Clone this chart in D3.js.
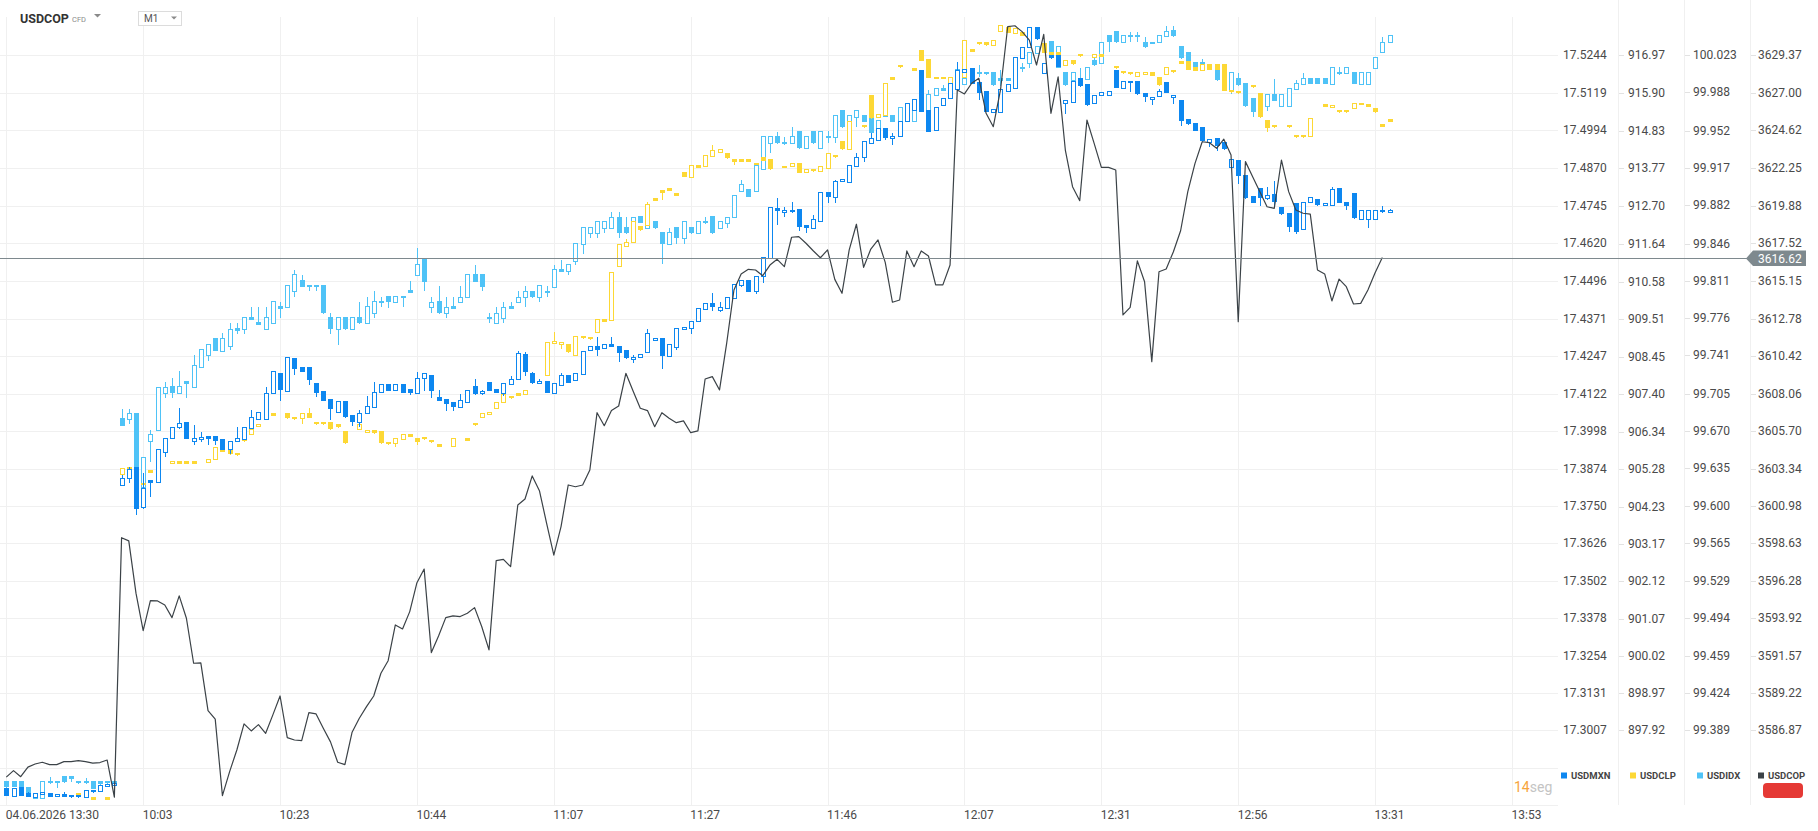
<!DOCTYPE html>
<html>
<head>
<meta charset="utf-8">
<script src="https://cdn.jsdelivr.net/npm/d3@7"></script>
<style>
  html, body { margin: 0; padding: 0; background: #fff; }
  svg { display: block; font-family: Roboto, "Noto Sans", sans-serif; }
</style>
</head>
<body>
<div id="chart"></div>
<script>
// ---- Data (1 bar per index) ----

const X_LABELS = ["04.06.2026 13:30", "10:03", "10:23", "10:44", "11:07", "11:27",
                  "11:46", "12:07", "12:31", "12:56", "13:31", "13:53"];

const MXN_TICKS = ["17.5244", "17.5119", "17.4994", "17.4870", "17.4745", "17.4620", "17.4496",
  "17.4371", "17.4247", "17.4122", "17.3998", "17.3874", "17.3750", "17.3626", "17.3502",
  "17.3378", "17.3254", "17.3131", "17.3007"];
const CLP_TICKS = ["916.97", "915.90", "914.83", "913.77", "912.70", "911.64", "910.58",
  "909.51", "908.45", "907.40", "906.34", "905.28", "904.23", "903.17", "902.12",
  "901.07", "900.02", "898.97", "897.92"];
const IDX_TICKS = ["100.023", "99.988", "99.952", "99.917", "99.882", "99.846", "99.811",
  "99.776", "99.741", "99.705", "99.670", "99.635", "99.600", "99.565", "99.529",
  "99.494", "99.459", "99.424", "99.389"];
const COP_TICKS = ["3629.37", "3627.00", "3624.62", "3622.25", "3619.88", "3617.52", "3615.15",
  "3612.78", "3610.42", "3608.06", "3605.70", "3603.34", "3600.98", "3598.63", "3596.28",
  "3593.92", "3591.57", "3589.22", "3586.87"];

const SERIES_NAMES = ["USDMXN", "USDCLP", "USDIDX", "USDCOP"];

// OHLC: [open, high, low, close]
const USDMXN = [
  [17.2817,17.2817,17.2791,17.2791],[17.2791,17.2815,17.2791,17.2815],[17.2820,17.2820,17.2791,17.2791],
  [17.2798,17.2804,17.2787,17.2787],[17.2787,17.2798,17.2787,17.2798],[17.2796,17.2804,17.2796,17.2804],
  [17.2798,17.2798,17.2787,17.2787],[17.2790,17.2796,17.2790,17.2796],[17.2796,17.2802,17.2787,17.2787],
  [17.2793,17.2793,17.2785,17.2785],[17.2793,17.2793,17.2785,17.2785],[17.2787,17.2809,17.2787,17.2809],
  [17.2809,17.2809,17.2802,17.2802],[17.2806,17.2826,17.2806,17.2826],[17.2823,17.2829,17.2823,17.2829],
  [17.2826,17.2834,17.2826,17.2834],[17.3819,17.3853,17.3819,17.3844],[17.3842,17.3880,17.3827,17.3873],
  [17.3878,17.3878,17.3722,17.3739],[17.3746,17.3858,17.3742,17.3809],[17.3836,17.3836,17.3781,17.3825],
  [17.3828,17.3938,17.3828,17.3938],[17.3930,17.3974,17.3913,17.3974],[17.3974,17.4011,17.3974,17.4011],
  [17.4011,17.4074,17.4007,17.4024],[17.4027,17.4027,17.3972,17.3972],[17.3966,17.4018,17.3954,17.3974],
  [17.3971,17.3996,17.3963,17.3980],[17.3982,17.3982,17.3954,17.3972],[17.3982,17.3982,17.3954,17.3966],
  [17.3971,17.3971,17.3936,17.3936],[17.3938,17.3966,17.3925,17.3966],[17.3966,17.4013,17.3966,17.3974],
  [17.3971,17.4011,17.3971,17.4011],[17.4007,17.4068,17.4007,17.4044],[17.4037,17.4063,17.4037,17.4063],
  [17.4037,17.4145,17.4037,17.4123],[17.4123,17.4197,17.4123,17.4197],[17.4190,17.4190,17.4101,17.4134],
  [17.4132,17.4243,17.4132,17.4243],[17.4239,17.4239,17.4184,17.4203],[17.4209,17.4209,17.4195,17.4195],
  [17.4212,17.4212,17.4151,17.4167],[17.4156,17.4156,17.4112,17.4125],[17.4131,17.4131,17.4099,17.4099],
  [17.4105,17.4105,17.4035,17.4070],[17.4063,17.4099,17.4063,17.4099],[17.4099,17.4099,17.4044,17.4044],
  [17.4052,17.4052,17.4018,17.4029],[17.4029,17.4068,17.4013,17.4059],[17.4057,17.4114,17.4057,17.4081],
  [17.4077,17.4160,17.4077,17.4129],[17.4127,17.4153,17.4127,17.4153],[17.4153,17.4153,17.4131,17.4131],
  [17.4134,17.4153,17.4134,17.4153],[17.4153,17.4153,17.4125,17.4125],[17.4138,17.4138,17.4121,17.4125],
  [17.4125,17.4193,17.4125,17.4173],[17.4173,17.4190,17.4132,17.4190],[17.4184,17.4184,17.4109,17.4132],
  [17.4112,17.4134,17.4099,17.4099],[17.4105,17.4105,17.4066,17.4088],[17.4093,17.4093,17.4066,17.4079],
  [17.4079,17.4121,17.4079,17.4101],[17.4096,17.4134,17.4096,17.4134],[17.4148,17.4171,17.4121,17.4121],
  [17.4123,17.4134,17.4118,17.4131],[17.4160,17.4162,17.4132,17.4132],[17.4138,17.4138,17.4125,17.4125],
  [17.4125,17.4156,17.4115,17.4156],[17.4153,17.4181,17.4153,17.4171],[17.4171,17.4265,17.4171,17.4256],
  [17.4252,17.4259,17.4181,17.4193],[17.4190,17.4195,17.4156,17.4156],[17.4156,17.4171,17.4156,17.4164],
  [17.4164,17.4164,17.4125,17.4125],[17.4123,17.4157,17.4123,17.4157],[17.4151,17.4190,17.4151,17.4184],
  [17.4184,17.4184,17.4159,17.4159],[17.4168,17.4190,17.4168,17.4190],[17.4187,17.4265,17.4187,17.4265],
  [17.4267,17.4280,17.4267,17.4280],[17.4280,17.4309,17.4250,17.4267],[17.4272,17.4286,17.4272,17.4286],
  [17.4286,17.4309,17.4278,17.4278],[17.4280,17.4280,17.4228,17.4258],[17.4267,17.4267,17.4239,17.4239],
  [17.4236,17.4250,17.4225,17.4245],[17.4243,17.4254,17.4243,17.4254],[17.4261,17.4335,17.4261,17.4322],
  [17.4300,17.4306,17.4300,17.4306],[17.4306,17.4306,17.4206,17.4248],[17.4248,17.4286,17.4248,17.4286],
  [17.4278,17.4341,17.4269,17.4341],[17.4335,17.4344,17.4335,17.4344],[17.4341,17.4363,17.4322,17.4363],
  [17.4363,17.4405,17.4363,17.4405],[17.4402,17.4424,17.4402,17.4424],[17.4424,17.4457,17.4399,17.4408],
  [17.4399,17.4427,17.4394,17.4408],[17.4405,17.4441,17.4405,17.4441],[17.4438,17.4484,17.4438,17.4484],
  [17.4482,17.4499,17.4477,17.4499],[17.4499,17.4499,17.4460,17.4460],[17.4463,17.4512,17.4455,17.4512],
  [17.4512,17.4576,17.4490,17.4576],[17.4571,17.4742,17.4571,17.4742],[17.4736,17.4769,17.4684,17.4727],
  [17.4723,17.4740,17.4709,17.4731],[17.4731,17.4756,17.4723,17.4723],[17.4733,17.4733,17.4662,17.4675],
  [17.4681,17.4681,17.4656,17.4670],[17.4670,17.4714,17.4670,17.4701],[17.4694,17.4789,17.4694,17.4789],
  [17.4791,17.4791,17.4755,17.4775],[17.4775,17.4830,17.4755,17.4827],[17.4827,17.4832,17.4827,17.4832],
  [17.4822,17.4878,17.4822,17.4878],[17.4876,17.4921,17.4876,17.4907],[17.4905,17.4959,17.4891,17.4959],
  [17.4954,17.4985,17.4954,17.4968],[17.4963,17.5001,17.4963,17.5001],[17.5003,17.5003,17.4963,17.4968],
  [17.4971,17.4985,17.4946,17.4977],[17.4976,17.5027,17.4976,17.5027],[17.5025,17.5084,17.5025,17.5084],
  [17.5062,17.5097,17.5062,17.5097],[17.5194,17.5194,17.5056,17.5056],[17.5062,17.5062,17.4990,17.4990],
  [17.4996,17.5073,17.4996,17.5073],[17.5078,17.5100,17.5078,17.5100],[17.5100,17.5150,17.5100,17.5150],
  [17.5130,17.5222,17.5130,17.5194],[17.5189,17.5196,17.5189,17.5196],[17.5200,17.5200,17.5148,17.5148],
  [17.5156,17.5156,17.5095,17.5119],[17.5125,17.5125,17.5056,17.5056],[17.5056,17.5064,17.5056,17.5064],
  [17.5056,17.5130,17.5056,17.5130],[17.5125,17.5148,17.5125,17.5148],[17.5134,17.5236,17.5134,17.5236],
  [17.5235,17.5272,17.5235,17.5272],[17.5269,17.5336,17.5269,17.5336],[17.5336,17.5336,17.5297,17.5297],
  [17.5183,17.5216,17.5183,17.5216],[17.5244,17.5244,17.5233,17.5233],[17.5244,17.5244,17.5205,17.5205],
  [17.5084,17.5095,17.5051,17.5095],[17.5089,17.5159,17.5089,17.5159],[17.5167,17.5167,17.5141,17.5141],
  [17.5148,17.5148,17.5078,17.5078],[17.5086,17.5112,17.5086,17.5112],[17.5112,17.5120,17.5112,17.5120],
  [17.5112,17.5125,17.5112,17.5125],[17.5194,17.5194,17.5136,17.5136],[17.5136,17.5158,17.5136,17.5158],
  [17.5158,17.5158,17.5123,17.5150],[17.5158,17.5158,17.5114,17.5114],[17.5117,17.5117,17.5089,17.5104],
  [17.5100,17.5106,17.5081,17.5106],[17.5108,17.5130,17.5108,17.5125],[17.5156,17.5156,17.5119,17.5119],
  [17.5104,17.5112,17.5084,17.5112],[17.5095,17.5095,17.5012,17.5026],[17.5031,17.5031,17.5014,17.5014],
  [17.5018,17.5018,17.4993,17.4993],[17.5004,17.5004,17.4959,17.4959],[17.4957,17.4965,17.4940,17.4965],
  [17.4968,17.4968,17.4927,17.4943],[17.4957,17.4957,17.4932,17.4932],[17.4872,17.4898,17.4872,17.4898],
  [17.4896,17.4896,17.4817,17.4844],[17.4847,17.4847,17.4769,17.4769],[17.4777,17.4777,17.4755,17.4755],
  [17.4802,17.4802,17.4747,17.4769],[17.4771,17.4808,17.4766,17.4780],[17.4784,17.4828,17.4744,17.4758],
  [17.4742,17.4742,17.4716,17.4716],[17.4722,17.4722,17.4659,17.4673],[17.4753,17.4753,17.4653,17.4659],
  [17.4667,17.4758,17.4667,17.4758],[17.4758,17.4775,17.4758,17.4775],[17.4766,17.4766,17.4746,17.4746],
  [17.4747,17.4755,17.4747,17.4755],[17.4747,17.4808,17.4747,17.4799],[17.4802,17.4802,17.4755,17.4755],
  [17.4758,17.4758,17.4731,17.4745],[17.4788,17.4788,17.4703,17.4703],[17.4701,17.4731,17.4701,17.4731],
  [17.4701,17.4731,17.4673,17.4731],[17.4701,17.4731,17.4701,17.4731],[17.4731,17.4744,17.4723,17.4723],
  [17.4723,17.4733,17.4723,17.4731]
];

const USDCLP = [
  null,null,null,null,null,null,null,null,null,null,
  [896.14,896.14,896.10,896.10],null,[896.03,896.03,895.96,895.96],null,[896.03,896.03,895.96,895.96],null,
  [905.14,905.31,905.14,905.31],[905.35,905.35,905.31,905.31],null,[904.89,904.89,904.83,904.83],
  [905.27,905.27,905.19,905.19],null,null,[905.45,905.52,905.45,905.52],[905.52,905.52,905.44,905.44],
  [905.52,905.52,905.44,905.44],[905.52,905.52,905.44,905.44],null,[905.48,905.57,905.48,905.57],
  [905.57,905.92,905.57,905.92],[905.85,905.85,905.78,905.78],[905.83,905.83,905.71,905.71],
  [905.75,905.75,905.68,905.68],[906.13,906.13,906.08,906.08],[906.27,906.42,906.27,906.42],
  [906.51,906.56,906.51,906.56],[906.79,906.79,906.72,906.72],[906.86,906.86,906.80,906.80],null,
  [906.86,906.86,906.72,906.72],[906.77,906.77,906.69,906.69],[906.72,906.86,906.58,906.86],
  [906.86,907.00,906.74,906.74],[906.63,906.63,906.55,906.55],[906.63,906.63,906.55,906.55],
  [906.61,906.61,906.41,906.41],[906.56,906.56,906.47,906.47],[906.37,906.37,906.02,906.02],null,
  [906.41,906.56,906.41,906.56],[906.33,906.38,906.33,906.38],[906.39,906.39,906.30,906.30],
  [906.35,906.35,906.02,906.02],[906.05,906.05,905.99,905.99],[906.02,906.16,905.92,906.16],
  [906.14,906.27,906.14,906.27],[906.28,906.28,906.20,906.20],[906.16,906.16,905.97,906.06],
  [906.19,906.19,906.13,906.13],[906.11,906.11,906.04,906.04],[906.00,906.00,905.92,905.92],null,
  [905.94,906.16,905.94,906.16],null,[906.16,906.16,906.09,906.09],[906.58,906.58,906.52,906.52],
  [906.75,906.86,906.75,906.86],[906.84,906.91,906.84,906.91],[907.00,907.19,907.00,907.19],
  [907.17,907.40,907.17,907.40],[907.36,907.36,907.29,907.29],[907.43,907.43,907.36,907.36],
  [907.41,907.51,907.41,907.51],null,null,[907.93,908.86,907.93,908.86],
  [908.84,909.15,908.84,908.91],[908.81,908.87,908.70,908.87],[908.81,908.81,908.58,908.58],
  [908.51,909.03,908.51,909.03],[909.04,909.04,908.98,908.98],[909.01,909.01,908.95,908.95],
  [909.17,909.52,909.17,909.52],[909.51,909.51,909.45,909.45],[909.50,910.84,909.50,910.84],
  [911.02,911.63,911.02,911.63],[911.59,911.77,911.59,911.70],[911.70,912.29,911.70,912.29],
  [912.15,912.15,912.03,912.03],[912.17,912.83,912.17,912.77],[912.95,912.95,912.86,912.86],
  [913.16,913.16,912.90,913.09],[913.21,913.21,913.14,913.14],[913.07,913.07,913.00,913.00],
  [913.68,913.68,913.54,913.54],[913.54,913.87,913.54,913.87],[913.87,913.87,913.79,913.79],
  [913.84,914.15,913.84,914.15],[914.12,914.43,914.12,914.29],[914.24,914.31,914.24,914.31],
  [914.21,914.21,914.06,914.06],[914.03,914.03,913.87,913.96],[914.03,914.03,913.96,913.96],
  [914.03,914.03,913.96,913.96],[913.93,913.93,913.87,913.87],[914.08,914.08,913.99,913.99],
  [914.03,914.03,913.74,913.74],null,[913.85,913.85,913.79,913.79],[913.84,913.91,913.84,913.91],
  [913.93,913.93,913.65,913.65],[913.66,913.74,913.66,913.74],[913.75,913.75,913.69,913.69],
  [913.69,913.84,913.69,913.84],[913.79,914.20,913.79,914.20],[914.15,914.15,914.08,914.08],
  [914.53,914.53,914.31,914.31],[914.31,915.12,914.31,915.12],null,[915.00,915.00,914.93,914.93],
  [915.84,915.84,915.18,915.18],[915.23,915.31,915.23,915.31],[915.28,916.17,915.28,916.17],
  [916.36,916.36,916.27,916.27],[916.69,916.69,916.63,916.63],null,[916.59,916.59,916.53,916.53],
  [917.11,917.11,916.81,916.81],[916.86,916.86,916.33,916.33],[916.36,916.36,916.31,916.31],
  [916.36,916.36,916.31,916.31],[916.19,916.36,916.19,916.36],null,[916.36,917.39,916.36,917.39],
  [917.13,917.13,917.06,917.06],[917.35,917.35,917.27,917.27],[917.35,917.35,917.25,917.25],
  [917.25,917.39,917.25,917.39],[917.66,917.82,917.66,917.82],[917.75,917.75,917.60,917.60],
  [917.60,917.72,917.60,917.72],[917.63,917.63,917.51,917.51],null,null,
  [917.30,917.30,917.04,917.04],[917.06,917.06,916.97,916.97],[917.06,917.06,916.97,916.97],
  [916.69,916.83,916.69,916.83],[916.83,916.83,916.71,916.71],[917.00,917.00,916.94,916.94],null,
  [916.92,917.00,916.92,917.00],[917.00,917.00,916.92,916.92],null,[916.67,916.67,916.59,916.59],
  [916.53,916.53,916.45,916.45],[916.50,916.50,916.43,916.43],[916.38,916.50,916.38,916.50],
  [916.45,916.50,916.45,916.50],[916.50,916.50,916.38,916.38],[916.34,916.34,916.12,916.12],
  [916.43,916.62,916.43,916.62],[916.55,916.55,916.48,916.48],[916.81,916.81,916.73,916.73],
  [916.81,916.81,916.55,916.55],[916.62,916.62,916.53,916.53],[916.55,916.73,916.55,916.73],
  [916.72,916.72,916.55,916.55],[916.72,916.72,916.55,916.55],[916.72,916.72,915.96,915.96],
  [915.98,915.98,915.92,915.92],[915.95,915.95,915.89,915.89],null,[916.12,916.12,916.06,916.06],
  [915.89,915.89,915.21,915.21],[915.14,915.14,914.81,914.90],[915.00,915.00,914.93,914.93],null,
  [915.00,915.00,914.93,914.93],[914.71,914.71,914.65,914.65],[914.71,914.71,914.65,914.65],
  [914.69,915.18,914.69,915.18],null,[915.58,915.58,915.51,915.51],[915.49,915.55,915.49,915.55],
  [915.42,915.42,915.35,915.35],[915.42,915.42,915.35,915.35],[915.47,915.63,915.47,915.63],
  [915.63,915.63,915.56,915.56],[915.58,915.58,915.51,915.51],[915.47,915.47,915.35,915.35],
  [915.02,915.02,914.95,914.95],[915.16,915.16,915.09,915.09]
];

const USDIDX = [
  [99.3415,99.3415,99.3353,99.3353],[99.3415,99.3415,99.3362,99.3362],[99.3415,99.3415,99.3362,99.3362],
  [99.3362,99.3362,99.3300,99.3300],[99.3253,99.3306,99.3253,99.3306],[99.3253,99.3415,99.3253,99.3415],
  [99.3415,99.3450,99.3393,99.3393],[99.3415,99.3415,99.3353,99.3393],[99.3462,99.3462,99.3400,99.3400],
  [99.3462,99.3462,99.3409,99.3434],[99.3415,99.3415,99.3393,99.3393],[99.3415,99.3440,99.3393,99.3393],
  [99.3415,99.3415,99.3340,99.3340],[99.3415,99.3415,99.3384,99.3384],[99.3415,99.3415,99.3393,99.3393],
  [99.3415,99.3415,99.3384,99.3384],[99.6820,99.6904,99.6751,99.6751],[99.6810,99.6904,99.6767,99.6867],
  [99.6867,99.6867,99.6360,99.6360],[99.6172,99.6460,99.6172,99.6460],[99.6607,99.6710,99.6413,99.6670],
  [99.6710,99.7117,99.6710,99.7117],[99.7054,99.7164,99.7014,99.7117],[99.7123,99.7202,99.7014,99.7054],
  [99.7054,99.7264,99.7054,99.7123],[99.7170,99.7170,99.7014,99.7145],[99.7111,99.7411,99.7111,99.7321],
  [99.7305,99.7468,99.7305,99.7468],[99.7411,99.7515,99.7358,99.7515],[99.7571,99.7571,99.7455,99.7455],
  [99.7455,99.7618,99.7455,99.7571],[99.7502,99.7712,99.7461,99.7662],[99.7668,99.7712,99.7618,99.7643],
  [99.7655,99.7768,99.7612,99.7768],[99.7771,99.7868,99.7746,99.7746],[99.7724,99.7868,99.7699,99.7699],
  [99.7655,99.7868,99.7655,99.7768],[99.7712,99.7918,99.7712,99.7918],[99.7874,99.7915,99.7765,99.7849],
  [99.7862,99.8072,99.7862,99.8072],[99.8012,99.8212,99.7962,99.8172],[99.8118,99.8165,99.8056,99.8056],
  [99.8072,99.8072,99.8018,99.8050],[99.8072,99.8072,99.8018,99.8050],[99.8072,99.8072,99.7806,99.7806],
  [99.7768,99.7806,99.7618,99.7655],[99.7655,99.7768,99.7508,99.7768],[99.7768,99.7768,99.7655,99.7655],
  [99.7655,99.7768,99.7655,99.7768],[99.7768,99.7915,99.7712,99.7712],[99.7712,99.7962,99.7712,99.7874],
  [99.7806,99.8015,99.7765,99.7921],[99.7921,99.7962,99.7868,99.7899],[99.7968,99.7968,99.7862,99.7909],
  [99.7909,99.7968,99.7909,99.7968],[99.7968,99.7968,99.7868,99.7946],[99.8024,99.8109,99.7999,99.7999],
  [99.8162,99.8420,99.8162,99.8269],[99.8312,99.8312,99.8018,99.8103],[99.7862,99.7962,99.7812,99.7915],
  [99.7921,99.8062,99.7806,99.7806],[99.7806,99.7962,99.7765,99.7868],[99.7874,99.7962,99.7849,99.7849],
  [99.7909,99.8062,99.7909,99.7962],[99.7956,99.8172,99.7956,99.8172],[99.8172,99.8259,99.8103,99.8103],
  [99.8172,99.8172,99.8018,99.8056],[99.7768,99.7806,99.7718,99.7749],[99.7712,99.7868,99.7712,99.7812],
  [99.7759,99.7915,99.7718,99.7868],[99.7874,99.7915,99.7849,99.7849],[99.7909,99.8015,99.7909,99.7962],
  [99.7956,99.8062,99.7868,99.8018],[99.8018,99.8018,99.7956,99.7956],[99.7956,99.8072,99.7915,99.8072],
  [99.8018,99.8062,99.7962,99.7999],[99.8056,99.8259,99.8056,99.8218],[99.8218,99.8306,99.8197,99.8197],
  [99.8206,99.8269,99.8165,99.8269],[99.8300,99.8462,99.8259,99.8462],[99.8456,99.8613,99.8362,99.8613],
  [99.8556,99.8613,99.8519,99.8613],[99.8556,99.8672,99.8519,99.8672],[99.8603,99.8672,99.8563,99.8672],
  [99.8603,99.8754,99.8603,99.8713],[99.8713,99.8754,99.8519,99.8556],[99.8619,99.8707,99.8556,99.8556],
  [99.8657,99.8713,99.8556,99.8713],[99.8722,99.8722,99.8657,99.8657],[99.8603,99.8666,99.8603,99.8666],
  [99.8672,99.8672,99.8603,99.8603],[99.8566,99.8566,99.8269,99.8456],[99.8456,99.8603,99.8456,99.8566],
  [99.8613,99.8613,99.8456,99.8510],[99.8510,99.8672,99.8462,99.8672],[99.8619,99.8619,99.8556,99.8556],
  [99.8556,99.8672,99.8556,99.8672],[99.8672,99.8707,99.8650,99.8650],[99.8719,99.8719,99.8556,99.8556],
  [99.8603,99.8672,99.8603,99.8672],[99.8657,99.8713,99.8613,99.8713],[99.8707,99.8916,99.8707,99.8916],
  [99.8957,99.9057,99.8957,99.9016],[99.8969,99.8969,99.8901,99.8901],[99.8957,99.9198,99.8957,99.9198],
  [99.9157,99.9470,99.9157,99.9470],[99.9401,99.9470,99.9314,99.9470],[99.9470,99.9505,99.9401,99.9401],
  [99.9417,99.9458,99.9392,99.9392],[99.9401,99.9558,99.9401,99.9470],[99.9517,99.9517,99.9354,99.9354],
  [99.9354,99.9470,99.9354,99.9470],[99.9517,99.9517,99.9401,99.9401],[99.9354,99.9517,99.9354,99.9517],
  [99.9470,99.9517,99.9408,99.9448],[99.9458,99.9667,99.9408,99.9667],[99.9714,99.9714,99.9551,99.9551],
  [99.9551,99.9667,99.9551,99.9667],[99.9645,99.9714,99.9558,99.9714],[99.9667,99.9667,99.9605,99.9605],
  [99.9636,99.9636,99.9501,99.9501],[99.9542,99.9620,99.9542,99.9620],[99.9714,99.9714,99.9652,99.9652],
  [99.9667,99.9667,99.9605,99.9605],[99.9605,99.9745,99.9605,99.9745],[99.9651,99.9713,99.9651,99.9713],
  [99.9610,99.9760,99.9610,99.9713],[99.9713,99.9839,99.9713,99.9839],[99.9713,99.9901,99.9713,99.9864],
  [99.9854,99.9917,99.9854,99.9917],[99.9917,99.9948,99.9895,99.9895],[99.9895,99.9895,99.9870,99.9870],
  [100.0026,100.0095,100.0026,100.0095],[99.9958,100.0105,99.9958,100.0011],[100.0011,100.0011,99.9980,99.9980],
  [100.0073,100.0136,100.0026,100.0051],[100.0073,100.0073,100.0051,100.0051],[100.0073,100.0073,99.9948,99.9948],
  [100.0011,100.0089,99.9948,99.9989],[100.0011,100.0011,99.9989,99.9989],[99.9989,100.0058,99.9989,100.0058],
  [100.0114,100.0158,100.0073,100.0095],[100.0151,100.0261,100.0114,100.0261],[100.0252,100.0314,100.0252,100.0314],
  [100.0339,100.0339,100.0277,100.0277],[100.0361,100.0361,100.0252,100.0252],[100.0120,100.0314,100.0120,100.0314],
  [100.0073,100.0073,99.9948,99.9948],[99.9995,100.0073,99.9995,100.0073],[100.0011,100.0105,99.9989,99.9989],
  [100.0001,100.0114,100.0001,100.0114],[100.0183,100.0208,100.0136,100.0136],[100.0151,100.0355,100.0151,100.0355],
  [100.0417,100.0417,100.0261,100.0349],[100.0458,100.0458,100.0349,100.0349],[100.0349,100.0417,100.0349,100.0417],
  [100.0417,100.0449,100.0355,100.0395],[100.0417,100.0449,100.0355,100.0395],[100.0355,100.0402,100.0302,100.0302],
  [100.0355,100.0355,100.0339,100.0339],[100.0349,100.0417,100.0349,100.0417],[100.0408,100.0502,100.0408,100.0458],
  [100.0464,100.0502,100.0408,100.0408],[100.0314,100.0314,100.0198,100.0198],[100.0261,100.0261,100.0176,100.0176],
  [100.0167,100.0167,100.0105,100.0105],[100.0167,100.0189,100.0145,100.0145],[100.0120,100.0120,100.0095,100.0095],
  [100.0089,100.0089,99.9995,99.9995],[100.0026,100.0026,99.9932,99.9932],[99.9901,100.0073,99.9870,100.0073],
  [100.0011,100.0058,99.9948,99.9948],[99.9964,99.9964,99.9751,99.9751],[99.9823,99.9823,99.9657,99.9698],
  [99.9713,99.9807,99.9713,99.9807],[99.9754,99.9864,99.9713,99.9864],[99.9864,100.0004,99.9801,99.9801],
  [99.9754,99.9864,99.9754,99.9864],[99.9754,99.9917,99.9754,99.9917],[99.9907,99.9995,99.9907,99.9964],
  [99.9958,100.0058,99.9958,100.0011],[100.0011,100.0011,99.9958,99.9958],[100.0011,100.0011,99.9958,99.9958],
  [100.0011,100.0011,99.9958,99.9958],[99.9958,100.0114,99.9958,100.0114],[100.0073,100.0114,100.0051,100.0051],
  [100.0058,100.0114,100.0058,100.0114],[100.0073,100.0073,99.9958,99.9958],[99.9958,100.0073,99.9958,100.0073],
  [99.9958,100.0073,99.9958,100.0073],[100.0105,100.0208,100.0105,100.0208],[100.0255,100.0402,100.0255,100.0355],
  [100.0349,100.0417,100.0349,100.0417]
];

// USDCOP close per bar (line)
const USDCOP = [
  3583.92, 3584.33, 3583.95, 3584.55, 3584.75, 3584.86, 3584.71, 3584.71, 3584.90, 3584.90,
  3584.96, 3584.90, 3584.80, 3584.84, 3585.00, 3582.66, 3598.99, 3598.79, 3595.50, 3593.14,
  3595.03, 3595.01, 3594.76, 3593.96, 3595.33, 3593.92, 3591.09, 3591.11, 3588.11, 3587.57,
  3582.76, 3584.27, 3585.63, 3587.27, 3586.83, 3587.23, 3586.68, 3587.84, 3589.03, 3586.41,
  3586.26, 3586.22, 3587.98, 3587.90, 3587.00, 3586.14, 3584.86, 3584.71, 3586.75, 3587.63,
  3588.36, 3589.03, 3590.46, 3591.25, 3593.50, 3593.25, 3594.34, 3596.16, 3597.02, 3591.76,
  3592.81, 3593.96, 3594.07, 3594.03, 3594.24, 3594.59, 3593.39, 3591.93, 3597.55, 3597.63,
  3597.17, 3601.05, 3601.43, 3602.88, 3601.95, 3599.90, 3597.89, 3599.69, 3602.31, 3602.20,
  3602.31, 3603.25, 3606.86, 3606.04, 3606.99, 3607.28, 3609.34, 3608.23, 3607.14, 3606.99,
  3605.98, 3606.86, 3606.51, 3606.23, 3606.34, 3605.60, 3605.71, 3608.98, 3609.13, 3608.29,
  3611.25, 3614.58, 3615.59, 3615.88, 3615.84, 3615.48, 3616.15, 3616.51, 3616.05, 3617.90,
  3617.94, 3617.52, 3617.05, 3616.61, 3617.10, 3615.25, 3614.37, 3617.10, 3618.72, 3616.01,
  3617.16, 3617.73, 3616.32, 3613.81, 3613.95, 3617.04, 3616.05, 3617.04, 3616.72, 3614.90,
  3614.90, 3616.15, 3627.17, 3626.92, 3627.59, 3627.90, 3625.70, 3624.86, 3627.17, 3631.15,
  3631.21, 3630.84, 3630.31, 3628.74, 3630.67, 3625.70, 3628.00, 3623.39, 3621.08, 3620.20,
  3625.28, 3623.81, 3622.30, 3622.30, 3622.13, 3613.01, 3613.49, 3616.41, 3615.10, 3610.07,
  3615.73, 3615.90, 3616.99, 3618.31, 3620.77, 3622.55, 3623.91, 3623.85, 3623.50, 3624.07,
  3623.08, 3612.59, 3622.66, 3621.71, 3620.77, 3619.82, 3619.72, 3622.76, 3620.77, 3619.62,
  3619.41, 3619.36, 3615.84, 3615.59, 3613.89, 3615.27, 3614.79, 3613.70, 3613.74, 3614.58,
  3615.67, 3616.62
];

// ---- Layout ----
const FRAME_WIDTH = 1818;
const FRAME_HEIGHT = 831;
const PLOT = {left: 0, right: 1558, top: 17, bottom: 805};
const TICK_TOP = 55, TICK_BOTTOM = 730.3;   // pixel rows of first / last labelled gridline
const BARS_ON_AXIS = 209;                    // index of the last time label (13:53)
const LABEL_EVERY = 19;

const COLORS = {mxn: "#0d87f0", clp: "#fdd835", idx: "#4fc3f7", cop: "#3b4247",
                grid: "#f0f0f0", text: "#4a4a4a", price: "#7e898e"};

const X_SCALE = d3.scaleLinear().domain([0, BARS_ON_AXIS]).range([6.3, 1512]);

function makeY(ticks) {
  return d3.scaleLinear()
           .domain([+ticks[ticks.length - 1], +ticks[0]])
           .range([TICK_BOTTOM, TICK_TOP]);
}
const Y_MXN = makeY(MXN_TICKS);
const Y_CLP = makeY(CLP_TICKS);
const Y_IDX = makeY(IDX_TICKS);
const Y_COP = makeY(COP_TICKS);

const svg = d3.select("#chart")
              .append("svg")
                .attr("width", FRAME_WIDTH)
                .attr("height", FRAME_HEIGHT);

svg.append("defs").append("clipPath").attr("id", "plot-clip")
   .append("rect").attr("x", PLOT.left).attr("y", 0)
   .attr("width", PLOT.right - PLOT.left).attr("height", PLOT.bottom);

// ---- Grid ----
const grid = svg.append("g").attr("shape-rendering", "crispEdges");
const gridRows = MXN_TICKS.map((t) => Y_MXN(+t));
// one more unlabelled row below the last label
const rowGap = gridRows[1] - gridRows[0];
gridRows.push(gridRows[gridRows.length - 1] + rowGap);

grid.selectAll("line.h").data(gridRows).join("line")
    .attr("class", "h")
    .attr("x1", 0).attr("x2", PLOT.right)
    .attr("y1", (d) => Math.round(d) + 0.5).attr("y2", (d) => Math.round(d) + 0.5)
    .attr("stroke", COLORS.grid);

// bottom border of the plot
grid.append("line")
    .attr("x1", 0).attr("x2", PLOT.right)
    .attr("y1", PLOT.bottom + 0.5).attr("y2", PLOT.bottom + 0.5)
    .attr("stroke", COLORS.grid);

const xTickIdx = X_LABELS.map((d, k) => k * LABEL_EVERY);
grid.selectAll("line.v").data(xTickIdx).join("line")
    .attr("class", "v")
    .attr("x1", (d) => Math.round(X_SCALE(d)) + 0.5).attr("x2", (d) => Math.round(X_SCALE(d)) + 0.5)
    .attr("y1", PLOT.top).attr("y2", PLOT.bottom)
    .attr("stroke", COLORS.grid);

// right axis columns
const AXIS_COLS = [
  {x: 1563, sep: null, ticks: MXN_TICKS, scale: Y_MXN},
  {x: 1628, sep: 1618.5, ticks: CLP_TICKS, scale: Y_CLP},
  {x: 1693, sep: 1684.5, ticks: IDX_TICKS, scale: Y_IDX},
  {x: 1758, sep: 1750.5, ticks: COP_TICKS, scale: Y_COP}
];
AXIS_COLS.forEach((col) => {
  if (col.sep !== null) {
    grid.append("line")
        .attr("x1", col.sep).attr("x2", col.sep)
        .attr("y1", 0).attr("y2", PLOT.bottom)
        .attr("stroke", COLORS.grid);
    grid.selectAll(null).data(col.ticks).join("line")
        .attr("x1", col.sep).attr("x2", col.sep + 5)
        .attr("y1", (d) => Math.round(col.scale(+d)) + 0.5)
        .attr("y2", (d) => Math.round(col.scale(+d)) + 0.5)
        .attr("stroke", "#e2e2e2");
  }
  svg.append("g").selectAll("text").data(col.ticks).join("text")
     .attr("x", col.x)
     .attr("y", (d) => col.scale(+d) + 4)
     .attr("font-size", "12px")
     .attr("fill", COLORS.text)
     .text((d) => d);
});

// x axis labels
svg.append("g").selectAll("text").data(X_LABELS).join("text")
   .attr("x", (d, k) => X_SCALE(k * LABEL_EVERY) - 0.5)
   .attr("y", 819)
   .attr("font-size", "12px")
   .attr("fill", COLORS.text)
   .text((d) => d);

// ---- Marks ----
const plot = svg.append("g").attr("clip-path", "url(#plot-clip)");

function drawCandles(data, yScale, color) {
  const bars = data.map((d, i) => d ? {i: i, o: d[0], h: d[1], l: d[2], c: d[3]} : null)
                   .filter((d) => d !== null);
  const g = plot.append("g").attr("shape-rendering", "crispEdges");
  const cx = (d) => Math.round(X_SCALE(d.i)) + 0.5;

  // wicks
  g.selectAll("line").data(bars).join("line")
   .attr("x1", cx).attr("x2", cx)
   .attr("y1", (d) => yScale(d.h)).attr("y2", (d) => yScale(d.l) + 0.5)
   .attr("stroke", color);

  // bodies: hollow when up, filled when down
  g.selectAll("rect").data(bars).join("rect")
   .each(function(d) {
     const up = d.c >= d.o;
     const yTop = yScale(Math.max(d.o, d.c));
     const yBot = yScale(Math.min(d.o, d.c));
     const r = d3.select(this);
     if (up) {
       r.attr("x", cx(d) - 2).attr("width", 4)
        .attr("y", Math.round(yTop) + 0.5)
        .attr("height", Math.max(Math.round(yBot) - Math.round(yTop), 1.5))
        .attr("fill", "#fff").attr("stroke", color).attr("stroke-width", 1);
     } else {
       r.attr("x", cx(d) - 2.5).attr("width", 5)
        .attr("y", yTop)
        .attr("height", Math.max(yBot - yTop, 2))
        .attr("fill", color);
     }
   });
}

drawCandles(USDIDX, Y_IDX, COLORS.idx);
drawCandles(USDCLP, Y_CLP, COLORS.clp);
drawCandles(USDMXN, Y_MXN, COLORS.mxn);

plot.append("path")
    .datum(USDCOP)
    .attr("d", d3.line().x((d, i) => X_SCALE(i)).y((d) => Y_COP(d)))
    .attr("fill", "none")
    .attr("stroke", COLORS.cop)
    .attr("stroke-width", 1.2)
    .attr("stroke-linejoin", "round");

// ---- Current price line + tag ----
const lastCop = USDCOP[USDCOP.length - 1];
const yLast = Math.round(Y_COP(lastCop)) + 0.5;
svg.append("line")
   .attr("x1", 0).attr("x2", 1747)
   .attr("y1", yLast).attr("y2", yLast)
   .attr("stroke", COLORS.price).attr("stroke-width", 1);
svg.append("path")
   .attr("d", `M1746,${yLast} L1753,${yLast - 8} L1806,${yLast - 8} L1806,${yLast + 7.5} L1753,${yLast + 7.5} Z`)
   .attr("fill", COLORS.price);
svg.append("text")
   .attr("x", 1758).attr("y", yLast + 4.5)
   .attr("font-size", "12px").attr("fill", "#fff")
   .text(lastCop.toFixed(2));

// ---- Header ----
svg.append("text").attr("x", 20).attr("y", 22.5)
   .attr("font-size", "12.5px").attr("font-weight", "bold").attr("fill", "#333")
   .text("USDCOP");
svg.append("text").attr("x", 72).attr("y", 21.5)
   .attr("font-size", "7.5px").attr("fill", "#8a8a8a")
   .text("CFD");
svg.append("path").attr("d", "M94,14 L101,14 L97.5,17.5 Z").attr("fill", "#8a8a8a");
svg.append("rect").attr("x", 138.5).attr("y", 11.5).attr("width", 43).attr("height", 14)
   .attr("fill", "#fff").attr("stroke", "#dcdcdc");
svg.append("text").attr("x", 144).attr("y", 22)
   .attr("font-size", "10px").attr("fill", "#555")
   .text("M1");
svg.append("path").attr("d", "M171,16.5 L177,16.5 L174,19.5 Z").attr("fill", "#8a8a8a");

// ---- Countdown ----
const cd = svg.append("text").attr("x", 1514).attr("y", 792).attr("font-size", "14px");
cd.append("tspan").attr("fill", "#f7a43c").text("14");
cd.append("tspan").attr("fill", "#c4c4c4").text("seg");

// ---- Legend ----
const LEGEND = [
  {name: SERIES_NAMES[0], color: COLORS.mxn, x: 1561},
  {name: SERIES_NAMES[1], color: COLORS.clp, x: 1630},
  {name: SERIES_NAMES[2], color: COLORS.idx, x: 1697},
  {name: SERIES_NAMES[3], color: COLORS.cop, x: 1758}
];
const leg = svg.append("g").selectAll("g").data(LEGEND).join("g");
leg.append("rect").attr("x", (d) => d.x).attr("y", 772.5).attr("width", 6).attr("height", 6)
   .attr("fill", (d) => d.color);
leg.append("text").attr("x", (d) => d.x + 10).attr("y", 779)
   .attr("font-size", "9.5px").attr("font-weight", "bold").attr("fill", "#444")
   .text((d) => d.name);
svg.append("rect").attr("x", 1763).attr("y", 783).attr("width", 40).attr("height", 15)
   .attr("rx", 4).attr("fill", "#e53935");
</script>
</body>
</html>
